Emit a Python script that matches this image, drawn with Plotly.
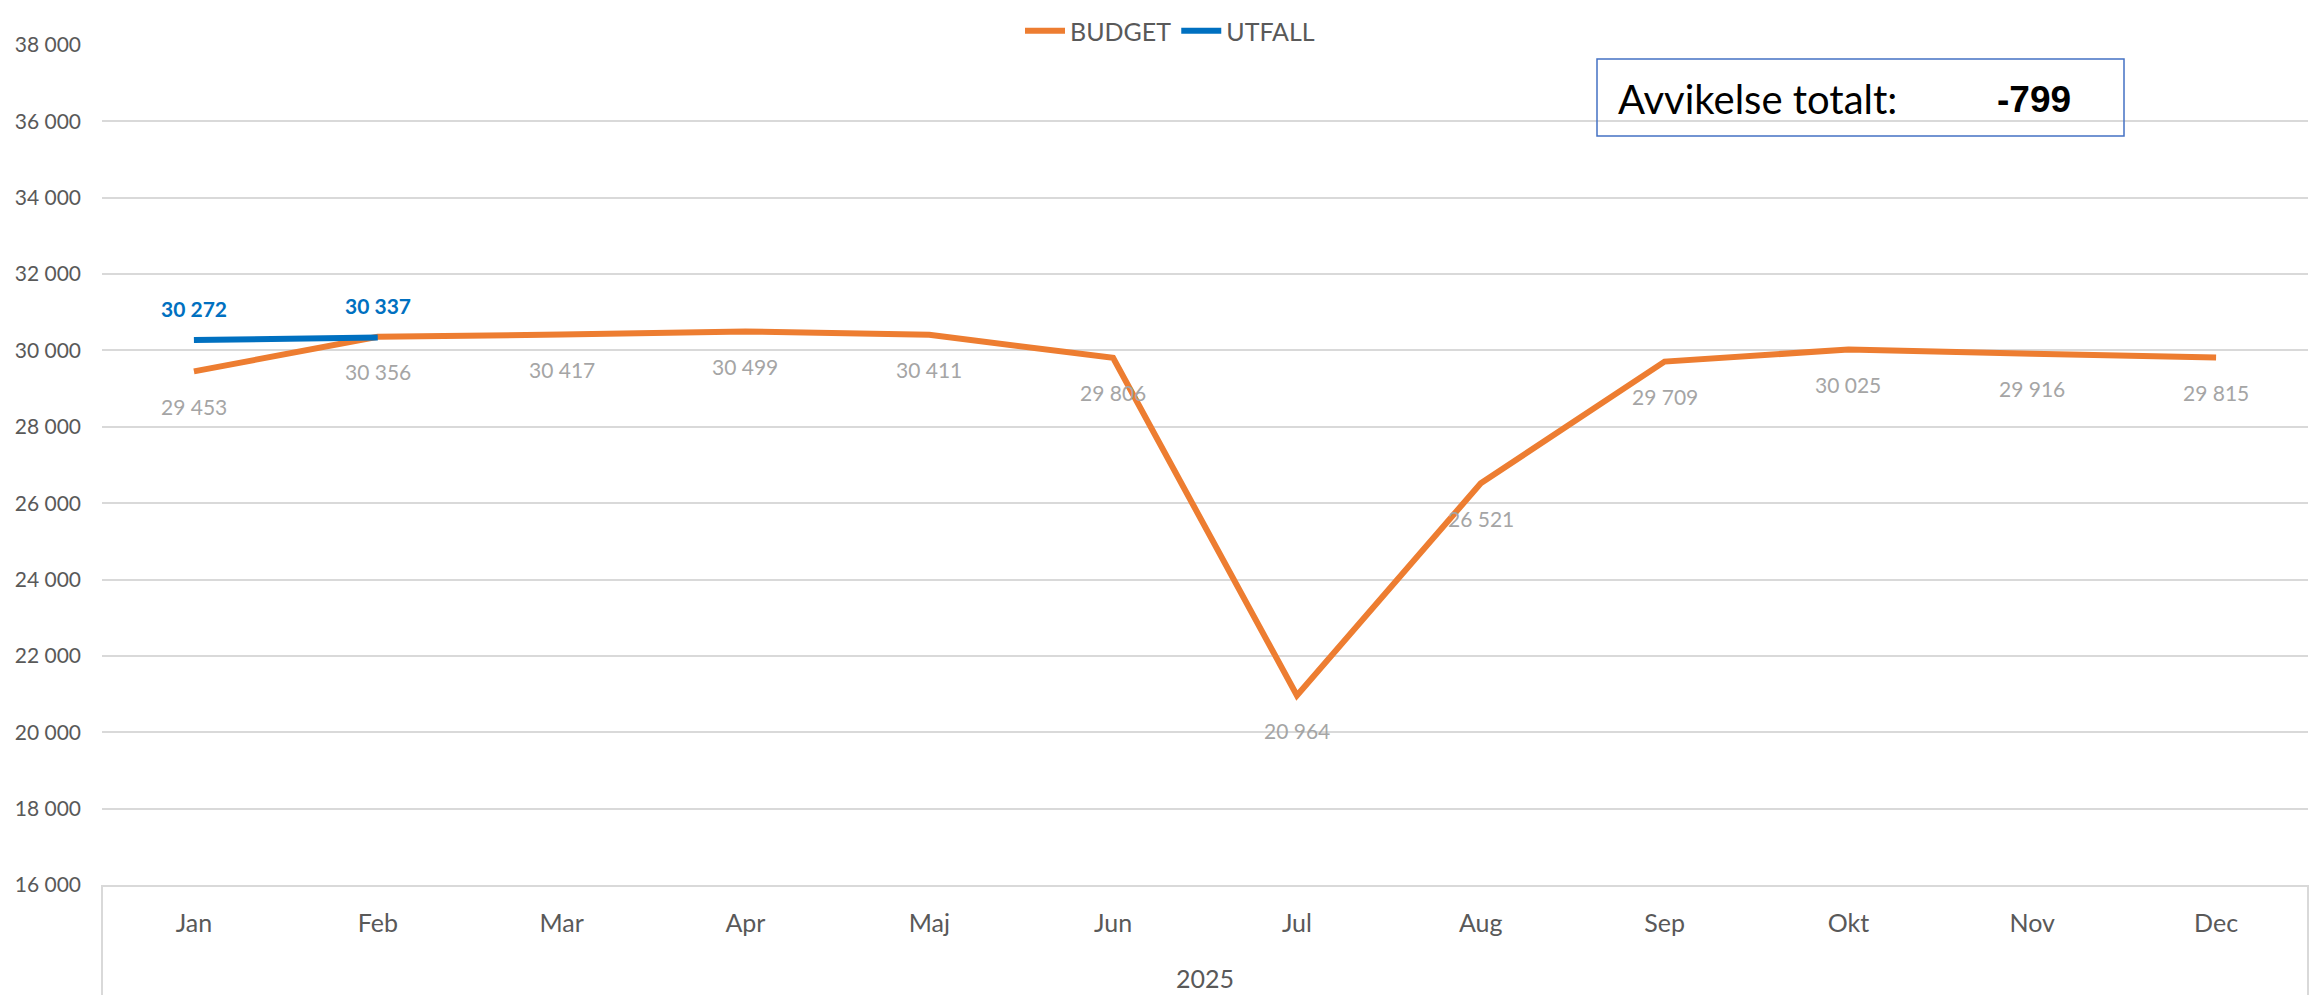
import plotly.graph_objects as go

months = ["Jan", "Feb", "Mar", "Apr", "Maj", "Jun", "Jul", "Aug", "Sep", "Okt", "Nov", "Dec"]
year_label = "2025"
budget = [29453, 30356, 30417, 30499, 30411, 29806, 20964, 26521, 29709, 30025, 29916, 29815]
utfall = [30272, 30337]
utfall_months = months[:len(utfall)]
y_ticks = list(range(16000, 38001, 2000))
deviation_label = "Avvikelse totalt:"
deviation_value = "-799"

ORANGE = "#ED7D31"
BLUE = "#0070C0"
GRID = "#D9D9D9"
FONT = "Lato"

# page body has an 8px margin, so the figure is shrunk by 8px to fit the window
OFF = 8
W, H = 2323 - OFF, 995 - OFF
L, T, R, B = 102 - OFF, 45 - OFF, 15, 110
PW, PH = W - L - R, H - T - B  # 2206 x 840

def fmt(v):
    return f"{v:,}".replace(",", " ")

def px(xpage):
    return (xpage - OFF - L) / PW

def py(ypage):
    return (H - B - (ypage - OFF)) / PH

fig = go.Figure()
fig.add_trace(go.Scatter(x=months, y=budget, mode="lines", name="BUDGET",
                         line=dict(color=ORANGE, width=6)))
fig.add_trace(go.Scatter(x=utfall_months, y=utfall, mode="lines", name="UTFALL",
                         line=dict(color=BLUE, width=6)))

annotations = []
for m, v in zip(months, budget):
    annotations.append(dict(x=m, y=v, xref="x", yref="y", text=fmt(v), showarrow=False,
                            yshift=-35, font=dict(family=FONT, size=21, color="#A5A5A5")))
for m, v in zip(utfall_months, utfall):
    annotations.append(dict(x=m, y=v, xref="x", yref="y", text=f"<b>{fmt(v)}</b>", showarrow=False,
                            yshift=32, font=dict(family=FONT, size=21, color=BLUE)))

# year label under the month labels
annotations.append(dict(x=0.5, y=py(978), xref="paper", yref="paper", text=year_label,
                        showarrow=False, yanchor="middle",
                        font=dict(family=FONT, size=25, color="#595959")))
# deviation box text
annotations.append(dict(x=px(1616), y=py(99), xref="paper", yref="paper",
                        text=deviation_label, showarrow=False, xanchor="left", yanchor="middle",
                        font=dict(family=FONT, size=40, color="#000000")))
annotations.append(dict(x=px(2034), y=py(99), xref="paper", yref="paper",
                        text=f"<b>{deviation_value}</b>", showarrow=False, xanchor="center", yanchor="middle",
                        font=dict(family="Liberation Sans", size=37, color="#000000")))

shapes = [
    dict(type="rect", xref="paper", yref="paper",
         x0=px(1597), x1=px(2124), y0=py(136), y1=py(59),
         line=dict(color="#4472C4", width=1.5), fillcolor="rgba(0,0,0,0)", layer="above"),
    dict(type="line", xref="paper", yref="paper", x0=0, x1=0, y0=0, y1=py(1000),
         line=dict(color=GRID, width=2)),
    dict(type="line", xref="paper", yref="paper", x0=1, x1=1, y0=0, y1=py(1000),
         line=dict(color=GRID, width=2)),
]

fig.update_layout(
    width=W, height=H,
    margin=dict(l=L, r=R, t=T, b=B, autoexpand=False),
    paper_bgcolor="white", plot_bgcolor="white",
    font=dict(family=FONT, color="#595959"),
    showlegend=True,
    legend=dict(orientation="h", x=px(1170), xanchor="center", y=py(OFF), yanchor="top",
                font=dict(family=FONT, size=25, color="#595959"), bgcolor="rgba(0,0,0,0)",
                itemwidth=40, tracegroupgap=0),
    annotations=annotations,
    shapes=shapes,
)
fig.update_xaxes(type="category", categoryorder="array", categoryarray=months,
                 range=[-0.5, 11.5], showgrid=False, zeroline=False,
                 showline=True, linecolor=GRID, linewidth=2,
                 ticks="", tickfont=dict(family=FONT, size=25, color="#595959"),
                 ticklabelstandoff=15)
fig.update_yaxes(range=[16000, 38000], tickvals=y_ticks, ticktext=[fmt(t) for t in y_ticks],
                 showgrid=True, gridcolor=GRID, gridwidth=2, zeroline=False, showline=False,
                 ticks="", tickfont=dict(family=FONT, size=21, color="#595959"),
                 ticklabelstandoff=20)

fig.write_html("out.html")
